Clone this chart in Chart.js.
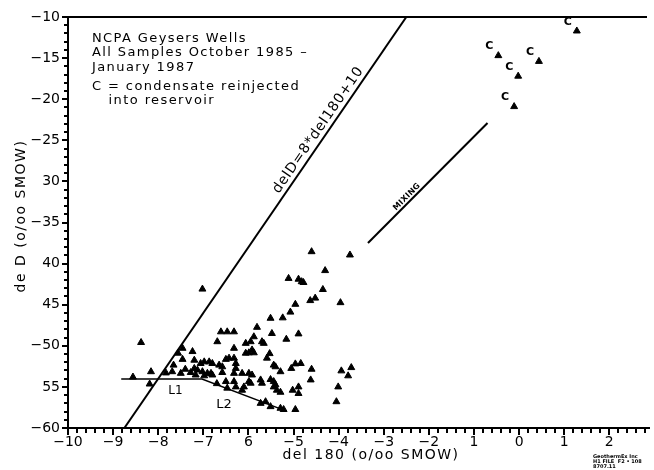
<!DOCTYPE html>
<html lang="en">
<head>
<meta charset="UTF-8">
<title>NCPA Geysers Wells - del D vs del 18O</title>
<script src="https://cdn.jsdelivr.net/npm/chart.js"></script>
<style>
  body { margin: 0; background: #fff; }
</style>
</head>
<body>
<canvas id="chart" width="654" height="470"></canvas>
<script>
// well samples (del 18O, del D)
var wellX = [-8.38, -8.56, -8.16, -8.19, -7.83, -7.69, -7.66, -7.56, -7.46, -7.46,
             -7.24, -7.20, -7.50, -7.40, -7.28, -7.20, -7.13, -7.02, -6.91, -6.80,
             -7.06, -6.98, -6.87, -6.80, -6.65, -6.58, -6.83, -7.17, -6.98, -6.61,
             -6.47, -6.32, -6.69, -6.32, -6.50, -6.43, -6.32, -6.28, -6.28, -6.58,
             -6.32, -6.14, -5.99, -5.92, -6.50, -6.32, -6.28, -6.10, -6.47, -6.14,
             -5.99, -5.95, -5.73, -5.70, -5.51, -5.44, -5.40, -5.37, -5.29, -5.44,
             -6.70, -6.06, -5.95, -5.88, -5.81, -5.70, -5.66, -5.48, -5.51, -5.24,
             -5.16, -4.89, -5.92, -5.88, -5.99, -6.06, -5.53, -5.59, -5.44, -5.40,
             -5.29, -5.05, -4.96, -4.84, -4.60, -4.62, -5.02, -4.89, -4.89, -5.73,
             -5.62, -5.51, -5.29, -5.22, -4.96, -4.60, -3.75, -4.30, -5.11, -4.89,
             -4.82, -4.78, -4.35, -4.63, -4.52, -3.96, -4.96, -5.07, -7.02, -3.94,
             -3.72, -3.79, -4.01, -4.05];
var wellY = [-49.6, -53.8, -53.15, -54.65, -53.3, -53.15, -52.35, -50.9, -50.3, -51.65,
             -50.7, -51.75, -53.35, -52.85, -53.25, -52.75, -52.95, -53.15, -53.35, -53.55,
             -52.15, -51.95, -51.95, -52.15, -52.35, -52.55, -53.35, -53.55, -53.65, -48.3,
             -48.3, -48.3, -49.5, -50.3, -51.65, -51.5, -51.5, -52.15, -52.75, -53.25,
             -53.35, -53.35, -53.35, -53.55, -54.35, -54.35, -55.0, -55.0, -55.15, -55.4,
             -54.35, -54.55, -54.15, -54.55, -54.1, -54.35, -54.75, -55.4, -55.65, -55.0,
             -54.6, -49.7, -49.5, -48.9, -47.75, -49.5, -49.7, -48.5, -46.65, -46.6,
             -49.2, -48.55, -50.5, -50.85, -50.85, -50.9, -50.95, -51.5, -52.35, -52.55,
             -53.15, -52.75, -52.2, -52.15, -52.85, -54.15, -55.4, -55.0, -55.8, -57.0,
             -56.8, -57.4, -57.6, -57.75, -57.75, -38.55, -38.95, -40.85, -41.8, -41.9,
             -42.2, -42.3, -43.15, -44.5, -44.2, -44.75, -44.95, -45.9, -43.1, -53.05,
             -52.65, -53.65, -55.0, -56.8];

// condensate reinjected into reservoir ("C")
var condX = [-0.46, 0.44, -0.02, -0.11, 1.28];
var condY = [-14.7, -15.4, -17.2, -20.9, -11.7];

// reference lines
var meteoricX = [-8.75, -2.5];   // delD = 8*del18O + 10
var meteoricY = [-60, -10];
var mixingX = [-3.35, -0.70];
var mixingY = [-37.5, -22.9];
var lineLX = [-8.82, -7.03, -5.26];   // L1 then L2
var lineLY = [-54.05, -54.05, -57.73];

// axes
var xTickVals = [-10, -9, -8, -7, -6, -5, -4, -3, -2, -1, 0, 1, 2];
var xTickLabels = ['\u221210', '\u22129', '\u22128', '\u22127', '6', '\u22125', '\u22124', '\u22123', '\u22122', '1', '0', '1', '2'];
var yTickVals = [-60, -55, -50, -45, -40, -35, -30, -25, -20, -15, -10];
var yTickLabels = ['\u221260', '55', '\u221250', '45', '40', '\u221235', '30', '\u221225', '\u221220', '\u221215', '\u221210'];

var noteLines = ['NCPA Geysers Wells', 'All Samples October 1985 \u2013', 'January 1987', 'C = condensate reinjected', '   into reservoir'];

var FONT = 'DejaVu Sans';

function pairs(xs, ys) {
    return xs.map(function (v, i) { return { x: v, y: ys[i] }; });
}

function text(ctx, s, x, y, size, opts) {
    opts = opts || {};
    ctx.save();
    ctx.translate(x, y);
    if (opts.angle) ctx.rotate(opts.angle);
    ctx.font = (opts.bold ? 'bold ' : '') + size + 'px "' + FONT + '"';
    ctx.letterSpacing = (opts.spacing || 0) + 'px';
    ctx.textAlign = opts.align || 'left';
    ctx.textBaseline = opts.baseline || 'middle';
    ctx.fillStyle = '#000';
    ctx.fillText(s, 0, 0);
    ctx.restore();
}

// label sitting on a line, a fraction t along it
function lineLabel(c, xs, ys, t, s, size, lift, bold, spacing) {
    var ctx = c.ctx, sx = c.scales.x, sy = c.scales.y;
    var x0 = sx.getPixelForValue(xs[0]), y0 = sy.getPixelForValue(ys[0]);
    var x1 = sx.getPixelForValue(xs[1]), y1 = sy.getPixelForValue(ys[1]);
    var ang = Math.atan2(y1 - y0, x1 - x0);
    var px = x0 + (x1 - x0) * t, py = y0 + (y1 - y0) * t;
    ctx.save();
    ctx.translate(px, py);
    ctx.rotate(ang);
    ctx.font = (bold ? 'bold ' : '') + size + 'px "' + FONT + '"';
    ctx.letterSpacing = spacing + 'px';
    ctx.textAlign = 'center';
    ctx.textBaseline = 'alphabetic';
    ctx.fillStyle = '#000';
    ctx.fillText(s, 0, -lift);
    ctx.restore();
}

var decor = {
    id: 'decor',
    afterDraw: function (c) {
        var ctx = c.ctx, a = c.chartArea, sx = c.scales.x, sy = c.scales.y;
        ctx.save();
        ctx.fillStyle = '#000';

        // top frame line
        ctx.fillRect(a.left, a.top - 1, a.right - a.left - 2, 2);

        // tick marks, every 0.2 on x and every 1 on y
        for (var i = -50; i <= 14; i++) {
            var px = Math.round(sx.getPixelForValue(i / 5));
            var len = (i % 5 === 0) ? 7 : 5;
            ctx.fillRect(px - 1, a.bottom, 2, len);
        }
        for (var j = -60; j <= -10; j++) {
            var py = Math.round(sy.getPixelForValue(j));
            var l2 = (j % 5 === 0) ? 6 : 4;
            ctx.fillRect(a.left - l2, py - 1, l2, 2);
        }
        ctx.restore();

        // axis titles
        text(ctx, 'del 180 (o/oo SMOW)', 371, 455, 14, { align: 'center', spacing: 1.5 });
        text(ctx, 'de D (o/oo SMOW)', 21, 216, 14, { align: 'center', spacing: 1.5, angle: -Math.PI / 2 });

        // note block
        var noteY = [39, 53, 68, 87, 101];
        noteLines.forEach(function (s, k) {
            text(ctx, s, 92, noteY[k], 13, { spacing: 1.4 });
        });

        // line labels
        lineLabel(c, meteoricX, meteoricY, 0.713, 'delD=8*del180+10', 14, 5, false, 0.8);
        lineLabel(c, mixingX, mixingY, 0.355, 'MIXING', 8, 3, true, 0.3);
        text(ctx, 'L1', sx.getPixelForValue(-7.62), sy.getPixelForValue(-55.5), 12, { align: 'center' });
        text(ctx, 'L2', sx.getPixelForValue(-6.54), sy.getPixelForValue(-57.2), 13, { align: 'center' });

        // C markers
        condX.forEach(function (v, k) {
            text(ctx, 'C', sx.getPixelForValue(v) - 9, sy.getPixelForValue(condY[k]) - 9, 11, { align: 'center', bold: true });
        });

        // maker's stamp
        text(ctx, 'GeothermEx Inc', 593, 457, 5, { bold: true });
        text(ctx, 'H1 FILE  F2 \u2022 108', 593, 462, 5, { bold: true });
        text(ctx, '8707.11', 593, 467, 5, { bold: true });
    }
};

var chart = new Chart(document.getElementById('chart'), {
    type: 'scatter',
    data: {
        datasets: [
            {
                label: 'Wells',
                data: pairs(wellX, wellY),
                pointStyle: 'triangle',
                pointRadius: 4,
                backgroundColor: '#000',
                borderColor: '#000',
                borderWidth: 1
            },
            {
                label: 'Condensate',
                data: pairs(condX, condY),
                pointStyle: 'triangle',
                pointRadius: 4,
                backgroundColor: '#000',
                borderColor: '#000',
                borderWidth: 1
            },
            {
                label: 'Meteoric',
                data: pairs(meteoricX, meteoricY),
                showLine: true,
                pointRadius: 0,
                borderColor: '#000',
                borderWidth: 2
            },
            {
                label: 'Mixing',
                data: pairs(mixingX, mixingY),
                showLine: true,
                pointRadius: 0,
                borderColor: '#000',
                borderWidth: 2
            },
            {
                label: 'L1 L2',
                data: pairs(lineLX, lineLY),
                showLine: true,
                pointRadius: 0,
                borderColor: '#000',
                borderWidth: 1.5
            }
        ]
    },
    options: {
        responsive: false,
        animation: false,
        devicePixelRatio: 1,
        layout: { padding: { top: 17, right: 1, left: 0, bottom: 0 } },
        plugins: { legend: { display: false }, tooltip: { enabled: false } },
        scales: {
            x: {
                type: 'linear',
                min: -10,
                max: 2.88,
                afterBuildTicks: function (s) { s.ticks = xTickVals.map(function (v) { return { value: v }; }); },
                afterFit: function (s) { s.height = 42; },
                grid: { display: true, drawOnChartArea: false, drawTicks: false },
                border: { color: '#000', width: 2 },
                ticks: {
                    autoSkip: false, maxRotation: 0, padding: 6, color: '#000',
                    font: { family: FONT, size: 14 },
                    callback: function (v, i) { return xTickLabels[i]; }
                }
            },
            y: {
                type: 'linear',
                min: -60,
                max: -10,
                afterBuildTicks: function (s) { s.ticks = yTickVals.map(function (v) { return { value: v }; }); },
                afterFit: function (s) { s.width = 68; },
                grid: { display: true, drawOnChartArea: false, drawTicks: false },
                border: { color: '#000', width: 2 },
                ticks: {
                    autoSkip: false, padding: 8, color: '#000',
                    font: { family: FONT, size: 14 },
                    callback: function (v, i) { return yTickLabels[i]; }
                }
            }
        }
    },
    plugins: [decor]
});
</script>
</body>
</html>
